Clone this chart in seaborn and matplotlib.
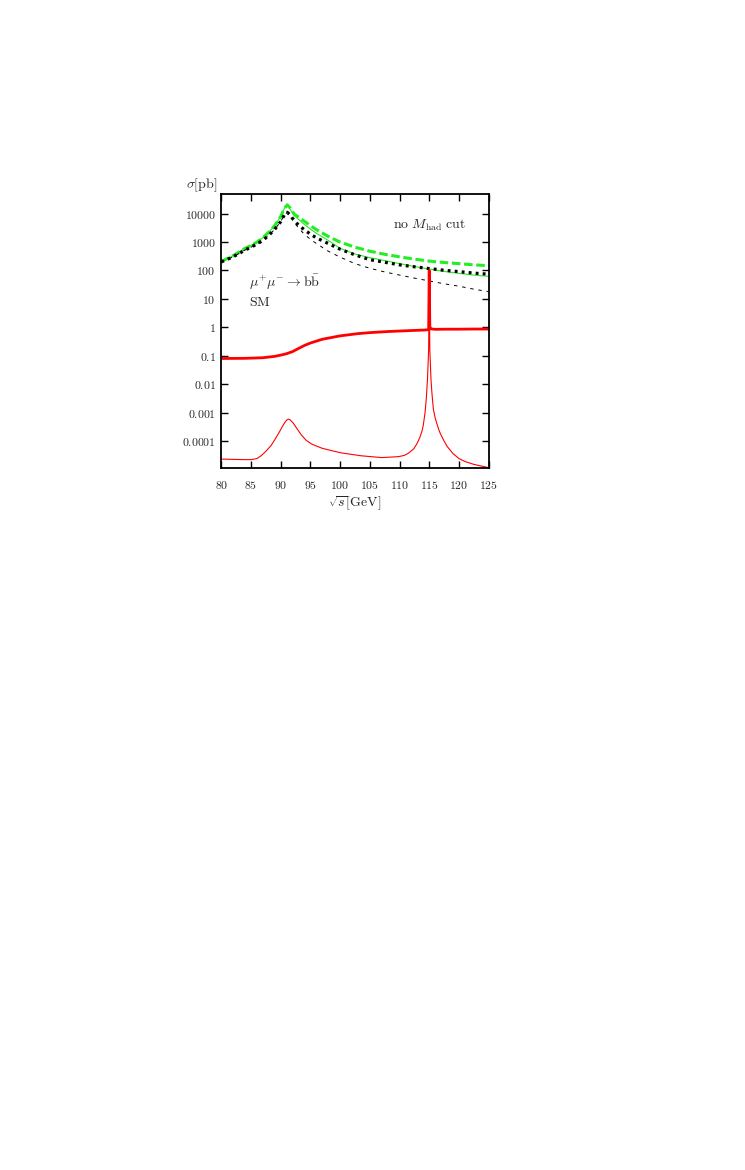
import numpy as np
import pandas as pd
import matplotlib
matplotlib.use("Agg")
import matplotlib.pyplot as plt
import seaborn as sns
from matplotlib.ticker import FixedLocator, FixedFormatter, NullLocator

# ---------------- data ----------------
x_tick_values = [80, 85, 90, 95, 100, 105, 110, 115, 120, 125]
x_tick_labels = ["80", "85", "90", "95", "100", "105", "110", "115", "120", "125"]
y_tick_values = [1e-4, 1e-3, 1e-2, 1e-1, 1, 10, 100, 1000, 10000]
y_tick_labels = ["0.0001", "0.001", "0.01", "0.1", "1", "10", "100", "1000", "10000"]

x_green = [80, 82, 84, 85, 86, 87, 88, 89, 90, 90.6, 91.1, 91.6, 92.3, 93, 94, 95, 96,
           98, 100, 102.5, 105, 107.5, 110, 112.5, 115, 117.5, 120, 122.5, 125]
green_thick = [209, 331, 603, 759, 1000, 1413, 2239, 3802, 7943, 15136, 20417, 15849, 9550,
               7586, 5370, 3802, 2754, 1585, 1000, 661, 479, 372, 302, 251, 214, 191, 174, 158, 148]
green_thin = [209, 331, 603, 759, 1000, 1413, 2239, 3802, 7943, 15136, 20417, 14125, 8511,
              6310, 4169, 2884, 2042, 1148, 603, 380, 282, 224, 174, 138, 112, 93, 79, 69, 62]

x_black = x_green
black_dotted = [200, 302, 525, 661, 851, 1148, 1738, 2818, 5248, 8913, 11220, 8913, 5623,
                3981, 2692, 1905, 1413, 891, 562, 355, 240, 195, 158, 135, 117, 102, 91, 81, 74]
black_dashed = [200, 302, 525, 661, 851, 1148, 1738, 2818, 5248, 8913, 11220, 7943, 4786,
                3162, 1862, 1259, 891, 479, 295, 174, 120, 89, 69, 54, 43, 34, 28, 22, 18]

x_red_thick = [80, 84, 87, 89, 90, 91, 92, 93, 94, 95, 97, 100, 103, 105, 108, 110, 112, 114,
               114.9, 115.0, 115.1, 115.3, 116, 118, 120, 122.5, 125]
red_thick = [0.080, 0.081, 0.085, 0.095, 0.105, 0.118, 0.14, 0.18, 0.23, 0.28, 0.38, 0.50,
             0.60, 0.65, 0.71, 0.74, 0.77, 0.80, 0.82, 100, 1.05, 0.88, 0.85, 0.86, 0.86, 0.87, 0.87]

x_red_thin = [80, 82, 84, 85, 86.0, 86.7, 87.5, 88.4, 89.0, 89.8, 90.2, 90.7, 91.0, 91.3,
              91.6, 92.1, 92.6, 93.5, 94.3, 95.2, 96.9, 98.5, 100.2, 103.6, 107, 109.8, 110.8,
              111.5, 112.4, 113.0, 113.4, 113.8, 114.0, 114.3, 114.5, 114.7, 114.9, 115.0,
              115.1, 115.3, 115.45, 115.7, 116.0, 116.3, 116.7, 117, 117.5, 118, 119, 120,
              121, 122.5, 123.5, 125]
red_thin = [2.3e-5, 2.25e-5, 2.2e-5, 2.2e-5, 2.4e-5, 3.0e-5, 4.3e-5, 7.0e-5, 1.1e-4, 2.1e-4,
            3.0e-4, 4.5e-4, 5.4e-4, 5.9e-4, 5.5e-4, 4.3e-4, 3.0e-4, 1.6e-4, 1.05e-4, 7.8e-5,
            5.6e-5, 4.6e-5, 3.8e-5, 3.0e-5, 2.6e-5, 2.8e-5, 3.1e-5, 3.7e-5, 5.3e-5, 8.5e-5,
            1.3e-4, 2.3e-4, 3.6e-4, 1.0e-3, 3.0e-3, 1.4e-2, 0.16, 30, 0.16, 1.4e-2, 5.0e-3,
            1.3e-3, 6.5e-4, 4.0e-4, 2.2e-4, 1.6e-4, 1.0e-4, 6.5e-5, 3.6e-5, 2.4e-5,
            1.9e-5, 1.5e-5, 1.35e-5, 1.15e-5]

# ---------------- style ----------------
sns.set_style("ticks")
plt.rcParams['font.family'] = ['DejaVu Serif']
plt.rcParams['mathtext.fontset'] = 'cm'
FS_TICK = 8.5
FS_TEXT = 10

fig = plt.figure(figsize=(7.45, 11.7), dpi=100)
ax = fig.add_axes([0.2970, 0.6003, 0.3589, 0.2339])
ax.set_yscale('log')

GREEN = '#22ee22'
RED = '#ff0000'

def draw(xs, ys, **kw):
    df = pd.DataFrame({"x": xs, "y": ys})
    sns.lineplot(data=df, x="x", y="y", ax=ax, estimator=None, sort=False, **kw)

draw(x_green, green_thick, color=GREEN, linewidth=2.2, linestyle=(0, (2.8, 1.2)))
draw(x_green, green_thin, color=GREEN, linewidth=0.8, linestyle='-')
draw(x_black, black_dotted, color='black', linewidth=2.3, linestyle=(0, (0.9, 1.3)))
draw(x_black, black_dashed, color='black', linewidth=0.7, linestyle=(0, (3.5, 5)))
draw(x_red_thick, red_thick, color=RED, linewidth=2.0, linestyle='-')
draw(x_red_thin, red_thin, color=RED, linewidth=0.8, linestyle='-')

ax.set_xlim(80, 125)
ax.set_ylim(1.15e-5, 4.93e4)
ax.set_xlabel('')
ax.set_ylabel('')

ax.xaxis.set_major_locator(FixedLocator(x_tick_values))
ax.xaxis.set_major_formatter(FixedFormatter(["$%s$" % t for t in x_tick_labels]))
ax.yaxis.set_major_locator(FixedLocator(y_tick_values))
ax.yaxis.set_major_formatter(FixedFormatter(["$%s$" % t for t in y_tick_labels]))
ax.xaxis.set_minor_locator(NullLocator())
ax.yaxis.set_minor_locator(NullLocator())

ax.tick_params(which='major', direction='in', top=True, right=True, length=5,
               width=1.0, labelsize=FS_TICK, color='black')
ax.tick_params(axis='x', pad=8)
ax.tick_params(axis='y', pad=4)
for s in ax.spines.values():
    s.set_linewidth(1.3)
    s.set_color('black')
    s.set_visible(True)

# texts
fig.text(0.2705, 0.8419, r'$\sigma[\mathrm{pb}]$', fontsize=FS_TEXT, ha='center', va='center')
fig.text(0.4765, 0.5703, r'$\sqrt{s}[\mathrm{GeV}]$', fontsize=FS_TEXT, ha='center', va='center')
ax.text(0.643, 0.887, r'$\mathrm{no}\ M_{\mathrm{had}}\ \mathrm{cut}$', transform=ax.transAxes,
        fontsize=FS_TEXT, ha='left', va='center')
ax.text(0.1047, 0.676, r'$\mu^{+}\mu^{-}\rightarrow \mathrm{b}\bar{\mathrm{b}}$',
        transform=ax.transAxes, fontsize=FS_TEXT, ha='left', va='center')
ax.text(0.1047, 0.6065, r'$\mathrm{SM}$', transform=ax.transAxes, fontsize=FS_TEXT,
        ha='left', va='center')

fig.savefig('out.png', dpi=100, facecolor='white')
